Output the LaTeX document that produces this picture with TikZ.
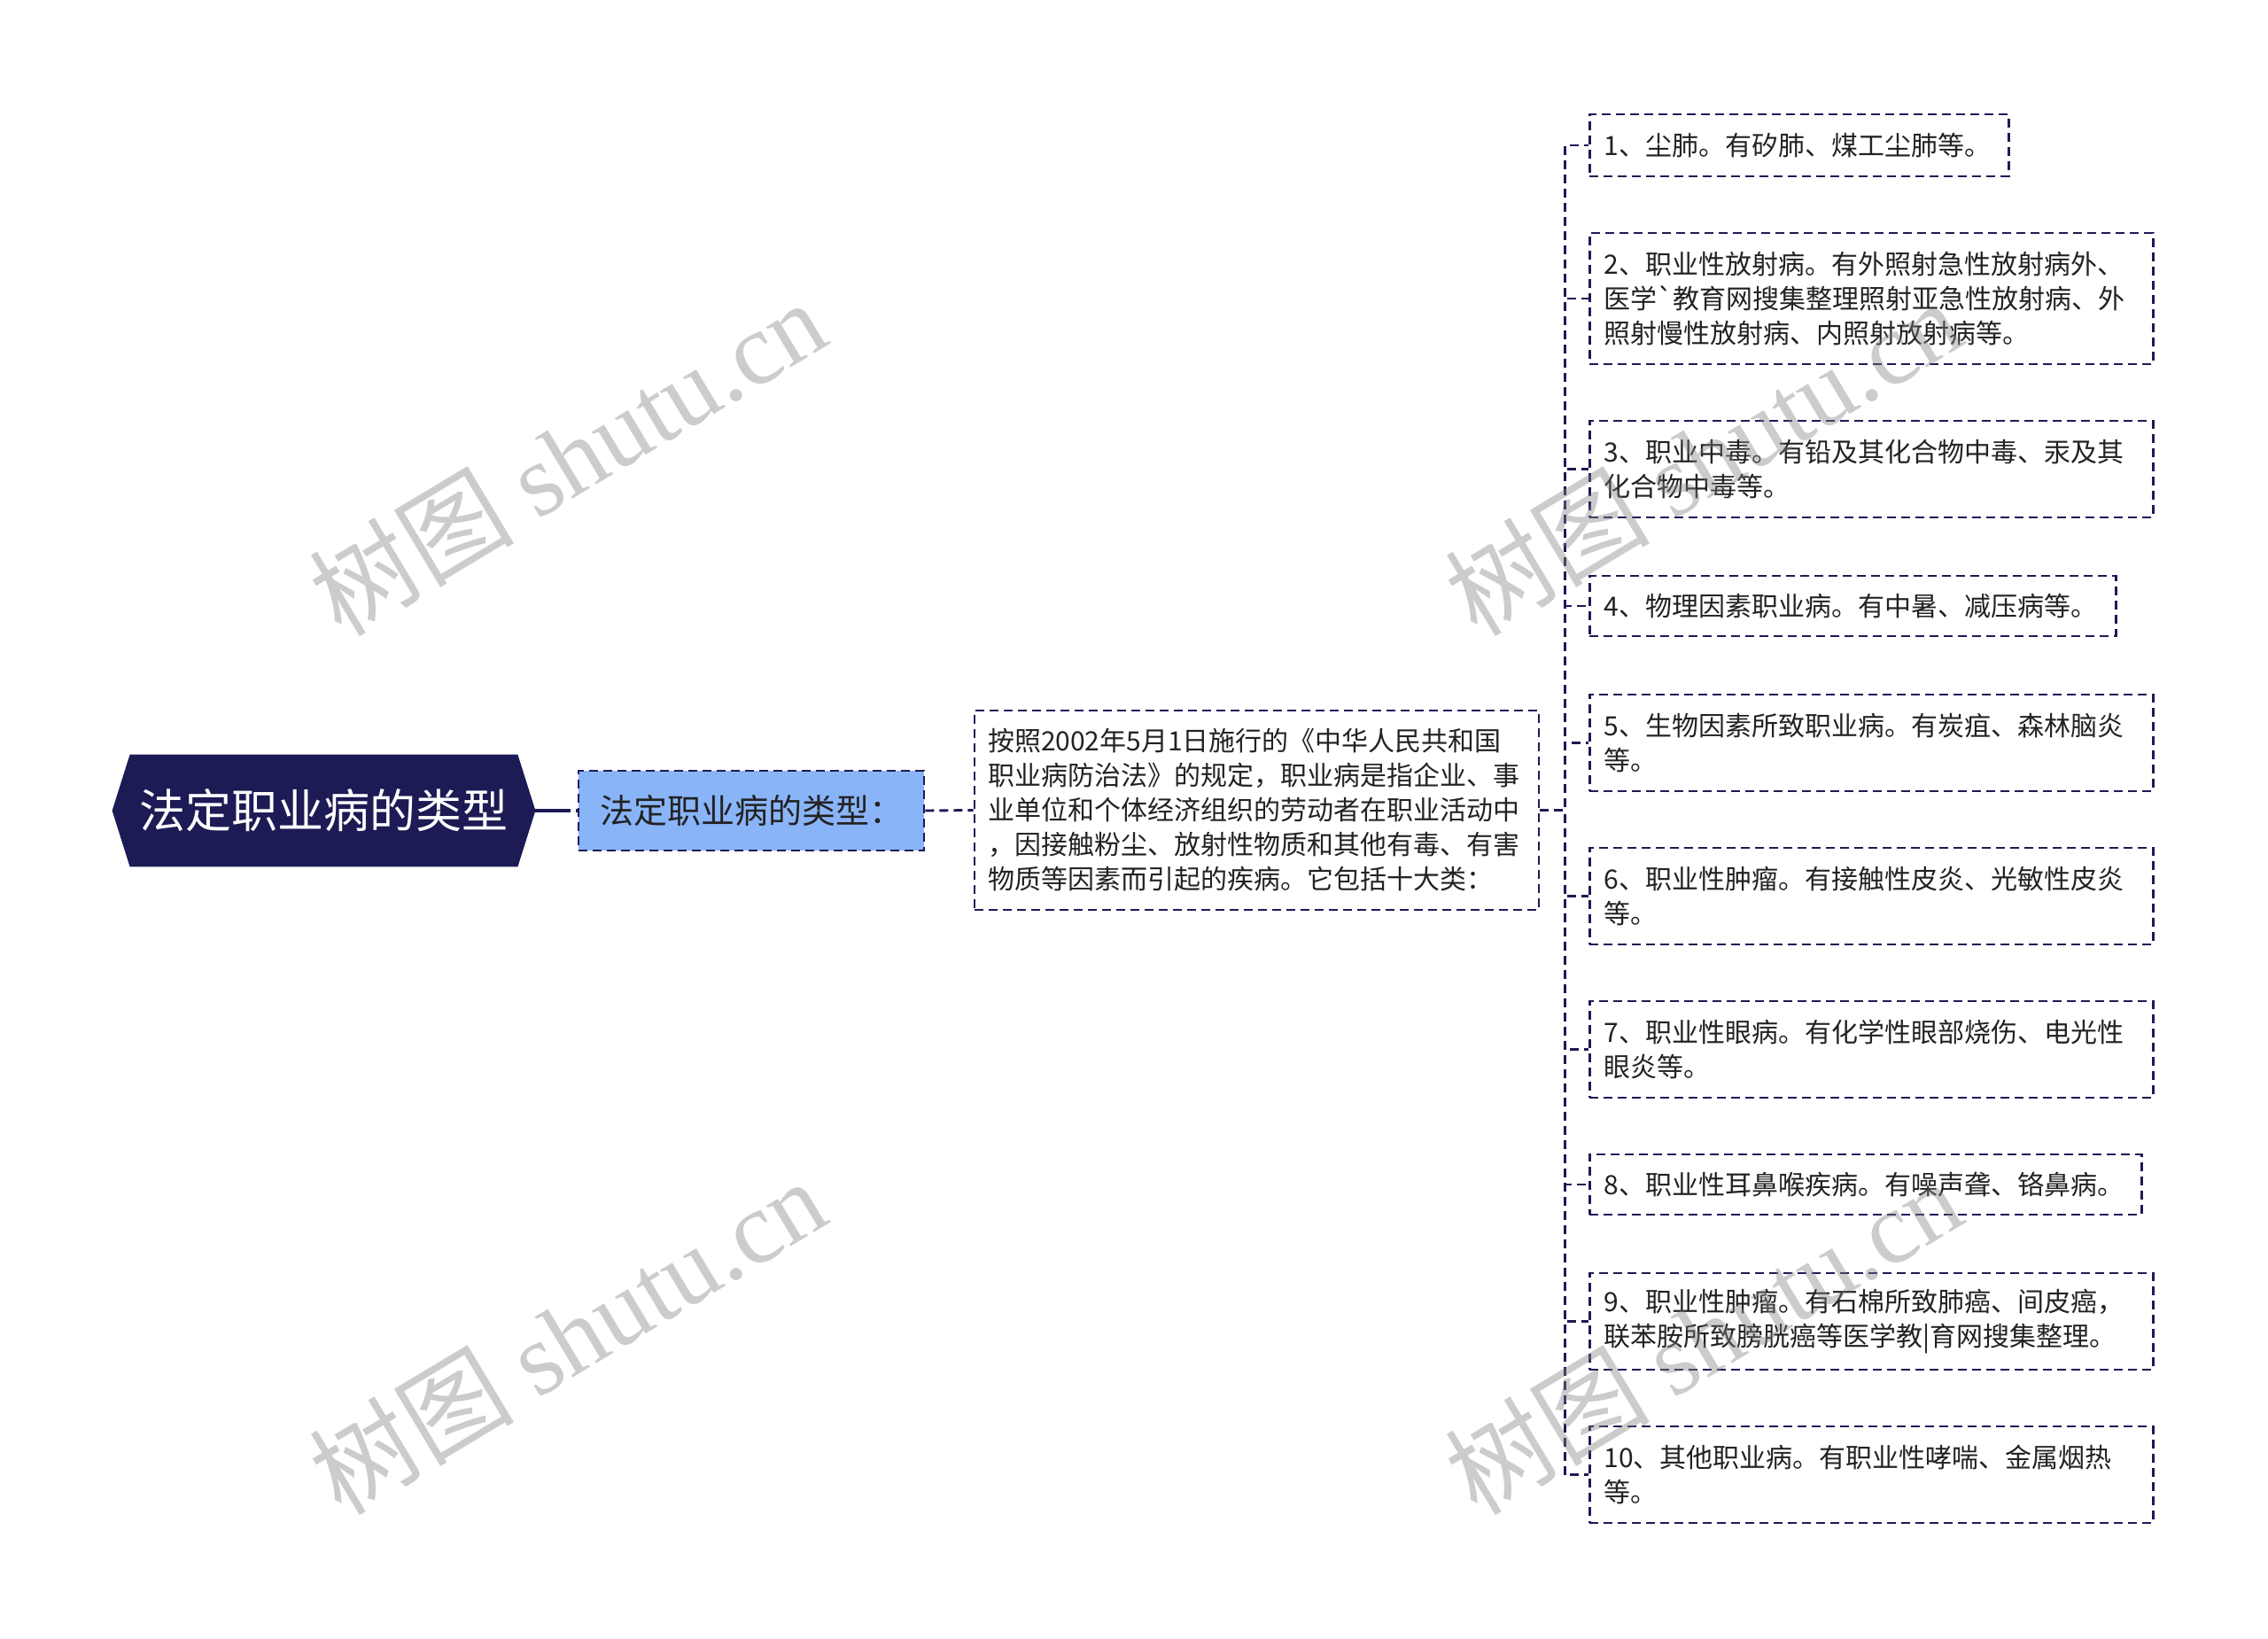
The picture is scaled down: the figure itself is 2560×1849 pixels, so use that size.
\documentclass[tikz,border=0pt]{standalone}
\usepackage{fontspec}
\setmainfont{Noto Sans CJK SC}
\newfontfamily\wmfont{Liberation Serif}
\newfontfamily\wmcjk{Noto Sans CJK SC}
\newfontfamily\rawfont{Noto Sans CJK SC}
\usetikzlibrary{backgrounds}
\definecolor{navy}{HTML}{1C1B55}
\definecolor{lblue}{HTML}{8AB4F8}
\definecolor{txt}{HTML}{222222}
\begin{document}
\begin{tikzpicture}[x=0.5pt,y=-0.5pt,
  dashline/.style={draw=navy, line width=1.45pt, dash pattern=on 5pt off 3pt},
  leafbox/.style={dashline, rectangle, anchor=west, inner xsep=8pt, inner ysep=0pt,
    align=left, font=\fontsize{15}{19.5}\selectfont, text=txt},
  link/.style={dashline},
  wmark/.style={rotate=31, text=gray, opacity=0.4, font=\fontsize{58}{58}\selectfont}]
\useasboundingbox (0,0) rectangle (2560,1849);

% root
\node[minimum width=238.5pt, minimum height=63pt, inner sep=0pt, text=white,
  font=\fontsize{26}{30}\selectfont] (root) at (365.5,915) {法定职业病的类型};

% sub
\node[dashline, fill=lblue, minimum width=195pt, minimum height=45pt, inner sep=0pt,
  font=\fontsize{19}{23}\selectfont, text=txt] (sub) at (848,915) {法定职业病的类型：};

% description
\node[dashline, rectangle, inner xsep=7.5pt, inner ysep=0pt, text width=303.5pt, align=left,
  minimum height=112.5pt, font=\fontsize{15}{19.5}\selectfont, text=txt] (desc) at (1418.5,914.5)
  {按照2002年5月1日施行的《中华人民共和国\\职业病防治法》的规定，职业病是指企业、事\\业单位和个体经济组织的劳动者在职业活动中\\，因接触粉尘、放射性物质和其他有毒、有害\\物质等因素而引起的疾病。它包括十大类：};

% leaves
\node[leafbox, text width=220.5pt, minimum height=35pt] (b1) at (1793,164) {1、尘肺。有矽肺、煤工尘肺等。};
\node[leafbox, text width=302pt, minimum height=74pt] (b2) at (1793,337) {2、职业性放射病。有外照射急性放射病外、\\医学{\rawfont `}教育网搜集整理照射亚急性放射病、外\\照射慢性放射病、内照射放射病等。};
\node[leafbox, text width=302pt, minimum height=54.5pt] (b3) at (1793,529.5) {3、职业中毒。有铅及其化合物中毒、汞及其\\化合物中毒等。};
\node[leafbox, text width=281pt, minimum height=34pt] (b4) at (1793,684) {4、物理因素职业病。有中暑、减压病等。};
\node[leafbox, text width=302pt, minimum height=54.5pt] (b5) at (1793,838.5) {5、生物因素所致职业病。有炭疽、森林脑炎\\等。};
\node[leafbox, text width=302pt, minimum height=54.5pt] (b6) at (1793,1011.5) {6、职业性肿瘤。有接触性皮炎、光敏性皮炎\\等。};
\node[leafbox, text width=302pt, minimum height=54.5pt] (b7) at (1793,1184.5) {7、职业性眼病。有化学性眼部烧伤、电光性\\眼炎等。};
\node[leafbox, text width=295.5pt, minimum height=34pt] (b8) at (1793,1337) {8、职业性耳鼻喉疾病。有噪声聋、铬鼻病。};
\node[leafbox, text width=302pt, minimum height=54.5pt] (b9) at (1793,1491.5) {9、职业性肿瘤。有石棉所致肺癌、间皮癌，\\联苯胺所致膀胱癌等医学教|育网搜集整理。};
\node[leafbox, text width=302pt, minimum height=54.5pt] (b10) at (1793,1664.5) {10、其他职业病。有职业性哮喘、金属烟热\\等。};

\begin{pgfonlayer}{background}
  \fill[white] (0,0) rectangle (2560,1849);
  \fill[navy] (root.west) -- ([xshift=10pt]root.north west) -- ([xshift=-10pt]root.north east)
    -- (root.east) -- ([xshift=-10pt]root.south east) -- ([xshift=10pt]root.south west) -- cycle;
\end{pgfonlayer}

% connectors
\draw[draw=navy, line width=1.6pt, dash pattern=on 20pt off 3pt] (root.east) -- (sub.west);
\draw[link] (sub.east) -- (desc.west);
\foreach \i in {1,...,10}
  \draw[link] (desc.east) -- ++(14pt,0) |- (b\i.west);

% watermarks
\node[wmark] (wm1) at (640,516) {\wmcjk 树图 \wmfont shutu.cn};
\node[wmark] (wm2) at (1922,516) {\wmcjk 树图 \wmfont shutu.cn};
\node[wmark] (wm3) at (640,1508) {\wmcjk 树图 \wmfont shutu.cn};
\node[wmark] (wm4) at (1922,1508) {\wmcjk 树图 \wmfont shutu.cn};
\end{tikzpicture}
\end{document}
